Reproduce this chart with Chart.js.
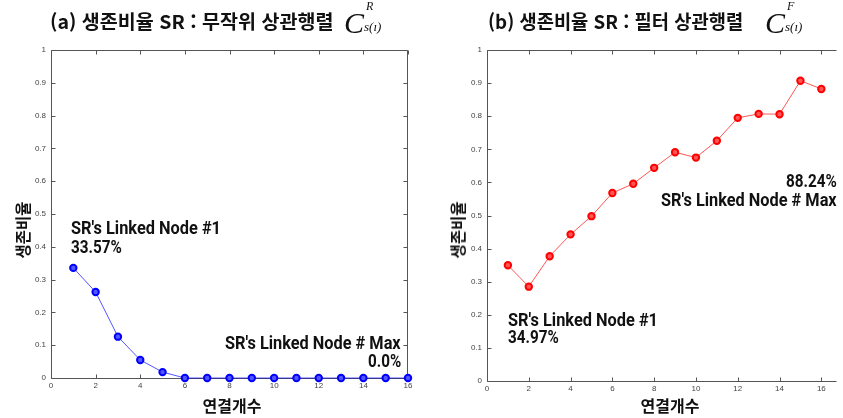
<!DOCTYPE html>
<html lang="ko">
<head>
<meta charset="UTF-8">
<script src="https://cdn.jsdelivr.net/npm/chart.js"></script>
<title>생존비율 SR</title>
<style>
    body { margin: 0; background: #fff; }
    #wrap { position: relative; width: 843px; height: 418px; overflow: hidden; }
    canvas { position: absolute; top: 0; }
    #c1 { left: 0; }
    #c2 { left: 420px; }
    .t { position: absolute; white-space: nowrap; line-height: 1; transform-origin: 0 0; color: #111; }
    .ko { font-family: "Noto Sans CJK KR", sans-serif; font-weight: 700; }
    .note { font-family: Roboto, sans-serif; font-weight: 700; font-size: 18px; }
    .m { font-family: "Liberation Serif", serif; font-style: italic; }
    .rot { transform-origin: 50% 50%; }
</style>
</head>
<body>
<div id="wrap">
    <canvas id="c1" width="420" height="418"></canvas>
    <canvas id="c2" width="423" height="418"></canvas>

    <!-- titles -->
    <div class="t ko" style="left:50px; top:11px; font-size:19px" data-w="283">(a) 생존비율 SR : 무작위 상관행렬</div>
    <div class="t m" style="left:344px; top:8px; font-size:30px">C</div>
    <div class="t m" style="left:366px; top:0px; font-size:12px">R</div>
    <div class="t m" style="left:364px; top:20px; font-size:13px">s(ı)</div>

    <div class="t ko" style="left:488px; top:11px; font-size:19px" data-w="255">(b) 생존비율 SR : 필터 상관행렬</div>
    <div class="t m" style="left:765px; top:8px; font-size:30px">C</div>
    <div class="t m" style="left:787px; top:0px; font-size:12px">F</div>
    <div class="t m" style="left:785px; top:20px; font-size:13px">s(ı)</div>

    <!-- axis titles -->
    <div class="t ko rot" style="left:22px; top:230px; font-size:16px" data-w="57" data-pre="translate(-50%,-50%) rotate(-90deg)">생존비율</div>
    <div class="t ko rot" style="left:457px; top:230px; font-size:16px" data-w="57" data-pre="translate(-50%,-50%) rotate(-90deg)">생존비율</div>
    <div class="t ko rot" style="left:232px; top:405px; font-size:16px" data-w="59" data-pre="translate(-50%,-50%)">연결개수</div>
    <div class="t ko rot" style="left:670px; top:405px; font-size:16px" data-w="59" data-pre="translate(-50%,-50%)">연결개수</div>

    <!-- annotations -->
    <div class="t note" style="left:71px; top:219px" data-w="150">SR's Linked Node #1</div>
    <div class="t note" style="left:71px; top:238px" data-w="51">33.57%</div>
    <div class="t note" style="left:225px; top:334px" data-w="176">SR's Linked Node # Max</div>
    <div class="t note" style="left:368px; top:352px" data-w="33">0.0%</div>

    <div class="t note" style="left:786px; top:172px" data-w="51">88.24%</div>
    <div class="t note" style="left:661px; top:191px" data-w="176">SR's Linked Node # Max</div>
    <div class="t note" style="left:508px; top:311px" data-w="150">SR's Linked Node #1</div>
    <div class="t note" style="left:508px; top:328px" data-w="51">34.97%</div>
</div>

<script>
    // 연결개수 (x) 와 생존비율 (y)
    const connections = [1, 2, 3, 4, 5, 6, 7, 8, 9, 10, 11, 12, 13, 14, 15, 16];
    const randomSR = [0.3357, 0.262, 0.126, 0.055, 0.018, 0, 0, 0, 0, 0, 0, 0, 0, 0, 0, 0];
    const filterSR = [0.3497, 0.285, 0.377, 0.443, 0.498, 0.568, 0.596, 0.644, 0.691, 0.675, 0.726, 0.795, 0.807, 0.806, 0.907, 0.8824];
    const xTicks = [0, 2, 4, 6, 8, 10, 12, 14, 16];
    const yTicks = [0, 0.1, 0.2, 0.3, 0.4, 0.5, 0.6, 0.7, 0.8, 0.9, 1];

    // matlab style box with inward ticks
    const matlabFrame = {
        id: 'matlabFrame',
        beforeDatasetsDraw(chart, args, opts) {
            const { ctx, chartArea: a, scales: { x, y } } = chart;
            const L = Math.round(a.left) + 0.5, R = Math.round(a.right) - 0.5;
            const T = Math.round(a.top) + 0.5, B = Math.round(a.bottom) + 0.5;
            ctx.save();
            ctx.strokeStyle = '#555';
            ctx.lineWidth = 1;
            ctx.beginPath();
            ctx.moveTo(L, T); ctx.lineTo(R, T);
            ctx.moveTo(L, T); ctx.lineTo(L, B); ctx.lineTo(R, B);
            if (opts.right) { ctx.moveTo(R, T); ctx.lineTo(R, B); }
            x.ticks.forEach(t => {
                const px = Math.round(x.getPixelForValue(t.value)) + 0.5;
                ctx.moveTo(px, B); ctx.lineTo(px, B - 4);
                ctx.moveTo(px, T); ctx.lineTo(px, T + 4);
            });
            y.ticks.forEach(t => {
                const py = Math.round(y.getPixelForValue(t.value)) + 0.5;
                ctx.moveTo(L, py); ctx.lineTo(L + 4, py);
                if (opts.right) { ctx.moveTo(R, py); ctx.lineTo(R - 4, py); }
            });
            ctx.stroke();
            ctx.restore();
        }
    };

    function makeChart(id, values, color, fill, xMax, yWidth, xHeight, padRight, rightBorder) {
        return new Chart(document.getElementById(id), {
            type: 'scatter',
            data: {
                datasets: [{
                    data: connections.map((c, i) => ({ x: c, y: values[i] })),
                    showLine: true,
                    borderColor: color + 'aa',
                    borderWidth: 1,
                    pointRadius: 3.2,
                    pointBorderWidth: 2,
                    pointBorderColor: color,
                    pointBackgroundColor: fill,
                    clip: false
                }]
            },
            options: {
                responsive: false,
                animation: false,
                layout: { padding: { top: 50, right: padRight, left: 0, bottom: 0 } },
                plugins: { legend: { display: false }, tooltip: { enabled: false }, matlabFrame: { right: rightBorder } },
                scales: {
                    x: {
                        type: 'linear', min: 0, max: xMax,
                        grid: { display: false, drawTicks: false },
                        border: { display: false },
                        afterBuildTicks: s => { s.ticks = xTicks.map(v => ({ value: v })); },
                        afterFit: s => { s.height = xHeight; },
                        ticks: { padding: 3, font: { family: 'Liberation Sans', size: 8 }, color: '#444', maxRotation: 0,
                                 callback: v => String(v) }
                    },
                    y: {
                        min: 0, max: 1,
                        grid: { display: false, drawTicks: false },
                        border: { display: false },
                        afterBuildTicks: s => { s.ticks = yTicks.map(v => ({ value: v })); },
                        afterFit: s => { s.width = yWidth; },
                        ticks: { padding: 5, font: { family: 'Liberation Sans', size: 8 }, color: '#444',
                                 callback: v => String(+v.toFixed(1)) }
                    }
                }
            },
            plugins: [matlabFrame]
        });
    }

    makeChart('c1', randomSR, '#0000ff', '#5555ff', 16, 51, 40, 12, true);
    makeChart('c2', filterSR, '#ff0000', '#ff5555', 16.75, 67, 37, 0, false);

    // squeeze text to the widths seen in the picture
    document.querySelectorAll('[data-w]').forEach(el => {
        const k = +el.dataset.w / el.offsetWidth;
        el.style.transform = (el.dataset.pre || '') + ' scaleX(' + k.toFixed(3) + ')';
    });
</script>
</body>
</html>
